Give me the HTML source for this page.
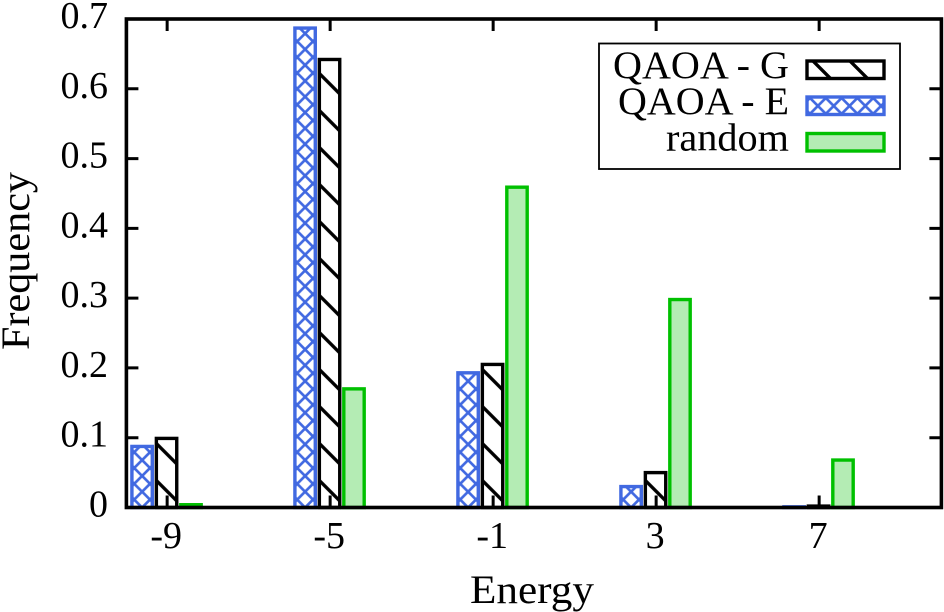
<!DOCTYPE html>
<html lang="en">
<head>
<meta charset="utf-8">
<title>Energy frequency chart</title>
<style>
html,body{margin:0;padding:0;background:#fff}
svg{display:block}
text{font-family:"Liberation Serif",serif;fill:#000}
</style>
</head>
<body>
<svg id="chart" width="944" height="612" viewBox="0 0 944 612" xmlns="http://www.w3.org/2000/svg">
<defs id="defs"></defs>
<g id="bars"></g>
<g id="axes"></g>
<g id="legend"></g>
</svg>
<script>
const categories = [-9, -5, -1, 3, 7];
const qaoaE = [0.0875, 0.687, 0.193, 0.03, 0.001];
const qaoaG = [0.099, 0.642, 0.205, 0.05, 0.002];
const randomSeries = [0.004, 0.17, 0.459, 0.298, 0.068];
const yTicks = [0, 0.1, 0.2, 0.3, 0.4, 0.5, 0.6, 0.7];
const yTickLabels = ['0', '0.1', '0.2', '0.3', '0.4', '0.5', '0.6', '0.7'];
const xTickLabels = ['-9', '-5', '-1', '3', '7'];

const NS = 'http://www.w3.org/2000/svg';
const plot = {left: 126.4, right: 941.4, top: 19, bottom: 507.5};
const xMin = -10, xMax = 10, yMin = 0, yMax = 0.7;
const BLUE = '#4169e1', GREEN = '#00c000', GREEN_FILL = '#b4ecb4';
function xScale(v) { return plot.left + (v - xMin) / (xMax - xMin) * (plot.right - plot.left); }
function yScale(v) { return plot.bottom - (v - yMin) / (yMax - yMin) * (plot.bottom - plot.top); }

function make(tag, attrs, parent) {
  const el = document.createElementNS(NS, tag);
  for (const k in attrs) el.setAttribute(k, attrs[k]);
  if (parent) parent.appendChild(el);
  return el;
}
const defs = document.getElementById('defs');
const barsG = document.getElementById('bars');
const axesG = document.getElementById('axes');
const legendG = document.getElementById('legend');
let patternId = 0;

function diagPattern(ox, oy) {
  const id = 'hatch' + (patternId++);
  const p = make('pattern', {id: id, patternUnits: 'userSpaceOnUse', width: 37, height: 37, patternTransform: 'translate(' + ox + ',' + oy + ')'}, defs);
  make('path', {d: 'M-4,-4L41,41M-41,-4L4,41M33,-4L78,41', stroke: '#000', 'stroke-width': 3.4, fill: 'none'}, p);
  return 'url(#' + id + ')';
}
function crossPattern(ox, oy) {
  const id = 'cross' + (patternId++);
  const p = make('pattern', {id: id, patternUnits: 'userSpaceOnUse', width: 15.8, height: 15.8, patternTransform: 'translate(' + ox + ',' + oy + ')'}, defs);
  make('path', {d: 'M-2,-2L17.8,17.8M17.8,-2L-2,17.8', stroke: BLUE, 'stroke-width': 2.7, fill: 'none'}, p);
  return 'url(#' + id + ')';
}
function boxFill(x, y, w, h, kind) {
  if (kind === 'e') return crossPattern(x + w / 2, y + h);
  if (kind === 'g') return diagPattern(x, y + h - 27);
  return GREEN_FILL;
}
function drawBar(cat, val, offset, kind, name) {
  const w = xScale(0.5) - xScale(0);
  const x = xScale(cat + offset) - w / 2 - 0.6;
  const y = yScale(val);
  const h = Math.max(plot.bottom - y, 0);
  const stroke = kind === 'e' ? BLUE : kind === 'g' ? '#000' : GREEN;
  const r = make('rect', {x: x, y: y, width: w, height: h, fill: boxFill(x, y, w, h, kind), stroke: stroke, 'stroke-width': 3.4}, barsG);
  
  
}
categories.forEach(function (c, i) {
  drawBar(c, qaoaE[i], -0.6, 'e', 'bar-qaoa-e-' + xTickLabels[i]);
  drawBar(c, qaoaG[i], 0, 'g', 'bar-qaoa-g-' + xTickLabels[i]);
  drawBar(c, randomSeries[i], 0.6, 'r', 'bar-random-' + xTickLabels[i]);
});

const TICK = 12;
yTicks.forEach(function (v, i) {
  const y = yScale(v);
  if (i > 0 && i < yTicks.length - 1) {
    const t = make('path', {d: 'M' + plot.left + ',' + y + 'h' + TICK + 'M' + plot.right + ',' + y + 'h' + (-TICK), stroke: '#000', 'stroke-width': 3, fill: 'none'}, axesG);
    
    
  }
  const l = make('text', {x: 108, y: y + 9, 'font-size': 38, 'text-anchor': 'end'}, axesG);
  l.textContent = yTickLabels[i];
  
  
});
categories.forEach(function (c, i) {
  const x = xScale(c);
  const t = make('path', {d: 'M' + x + ',' + plot.bottom + 'v' + (-TICK) + 'M' + x + ',' + plot.top + 'v' + TICK, stroke: '#000', 'stroke-width': 3, fill: 'none'}, axesG);
  
  
  const l = make('text', {x: x - 1, y: 548, 'font-size': 38, 'text-anchor': 'middle'}, axesG);
  l.textContent = xTickLabels[i];
  
  
});
const frame = make('rect', {x: plot.left, y: plot.top, width: plot.right - plot.left, height: plot.bottom - plot.top, fill: 'none', stroke: '#000', 'stroke-width': 3.6}, axesG);



const xTitle = make('text', {x: 470, y: 603, 'font-size': 40, textLength: 124, lengthAdjust: 'spacingAndGlyphs'}, axesG);
xTitle.textContent = 'Energy';


const yTitle = make('text', {x: 0, y: 0, 'font-size': 40, textLength: 178, lengthAdjust: 'spacingAndGlyphs', transform: 'translate(29,350) rotate(-90)'}, axesG);
yTitle.textContent = 'Frequency';



const legendBox = make('rect', {x: 599, y: 43.5, width: 301, height: 125.5, fill: '#fff', stroke: '#000', 'stroke-width': 1.8}, legendG);


function legendEntry(label, kind, y, textStart, name) {
  const x = 807, w = 77, h = 17.5;
  const stroke = kind === 'e' ? BLUE : kind === 'g' ? '#000' : GREEN;
  const fill = kind === 'g' ? diagPattern(811, y - 2) : kind === 'e' ? crossPattern(810, y + 1) : GREEN_FILL;
  const s = make('rect', {x: x, y: y, width: w, height: h, fill: fill, stroke: stroke, 'stroke-width': 3.4}, legendG);
  
  
  const t = make('text', {x: textStart, y: y + 17, 'font-size': 39, textLength: 789 - textStart, lengthAdjust: 'spacingAndGlyphs'}, legendG);
  t.textContent = label;
  
  
}
legendEntry('QAOA - G', 'g', 61, 613, 'legend-qaoa-g');
legendEntry('QAOA - E', 'e', 97, 618, 'legend-qaoa-e');
legendEntry('random', 'r', 133.5, 666, 'legend-random');
</script>
</body>
</html>
